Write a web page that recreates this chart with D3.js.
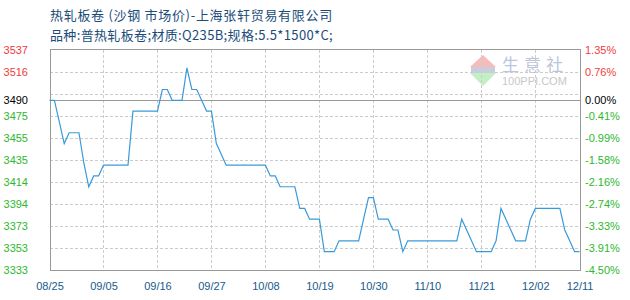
<!DOCTYPE html>
<html><head><meta charset="utf-8">
<script src="https://cdn.jsdelivr.net/npm/d3@7"></script>
<style>body{margin:0;background:#fff}svg{display:block}</style>
</head><body><div id="chart"></div>
<script>
const titleLine1 = "热轧板卷 (沙钢 市场价)-上海张轩贸易有限公司";
const titleLine2 = "品种:普热轧板卷;材质:Q235B;规格:5.5*1500*C;";
const startDate = "2023-08-25";
const endDate = "2023-12-11";
const baseValue = 3490;
const prices = [
 3490,3490,3470,3450,3460,3460,3460,3432,3410,3420,
 3420,3430,3430,3430,3430,3430,3430,3480,3480,3480,
 3480,3480,3480,3500,3500,3490,3490,3490,3520,3500,
 3500,3490,3480,3480,3450,3440,3430,3430,3430,3430,
 3430,3430,3430,3430,3430,3420,3420,3410,3410,3410,
 3410,3390,3390,3380,3380,3380,3350,3350,3350,3360,
 3360,3360,3360,3360,3380,3400,3400,3380,3380,3380,
 3370,3370,3350,3360,3360,3360,3360,3360,3360,3360,
 3360,3360,3360,3360,3380,3370,3360,3350,3350,3350,
 3350,3360,3390,3380,3370,3360,3360,3360,3380,3390,
 3390,3390,3390,3390,3390,3370,3360,3350,3350
];
const gridValues = [3537,3516.6,3496.2,3475.8,3455.4,3435,3414.6,3394.2,3373.8,3353.4,3333];
const leftLabels = ["3537","3516","3490","3475","3455","3435","3414","3394","3373","3353","3333"];
const rightLabels = ["1.35%","0.76%","0.00%","-0.41%","-0.99%","-1.58%","-2.16%","-2.74%","-3.33%","-3.91%","-4.50%"];
const xTickLabels = ["08/25","09/05","09/16","09/27","10/08","10/19","10/30","11/10","11/21","12/02","12/11"];

const W = 630, H = 300;
const parse = d3.timeParse("%Y-%m-%d");
const d0 = parse(startDate), d1 = parse(endDate);
const dates = d3.timeDay.range(d0, d3.timeDay.offset(d1, 1));
const data = dates.map((d, i) => ({date: d, value: prices[i]}));
const xTickDates = xTickLabels.map(s => {
  const [m, dd] = s.split("/").map(Number);
  return new Date(2023, m - 1, dd);
});

const L = 50, R = 580, T = 49.5, B = 270;
const x = d3.scaleTime().domain([d0, d1]).range([L - 0.5, R - 0.5]);
const y = d3.scaleLinear().domain([3333, 3537]).range([B, T]);

const svg = d3.select("#chart").append("svg").attr("width", W).attr("height", H);
const cjk = "'Noto Sans CJK SC','Noto Sans',sans-serif";
const num = "'Liberation Sans','DejaVu Sans',sans-serif";

svg.append("text").attr("x", 50).attr("y", 20).attr("fill", "#1a4c7a")
  .style("font-family", cjk).style("font-size", "13px").style("letter-spacing", "0.7px").text(titleLine1);
svg.append("text").attr("x", 50).attr("y", 40).attr("fill", "#1a4c7a")
  .style("font-family", cjk).style("font-size", "13px").style("letter-spacing", "0.35px").text(titleLine2);

// watermark
const wm = svg.append("g");
wm.append("path").attr("d", "M483,55 L496,67 L470,67 Z").attr("fill", "#f6bcbc");
wm.append("rect").attr("x", 471).attr("y", 67).attr("width", 24).attr("height", 6).attr("fill", "#c8cede");
wm.append("path").attr("d", "M470,73 L496,73 L483,86 Z").attr("fill", "#c4eec4");
wm.append("text").attr("x", 502).attr("y", 71).attr("fill", "#bcc4dc")
  .style("font-family", cjk).style("font-size", "17px").style("letter-spacing", "5px").text("生意社");
wm.append("text").attr("x", 502).attr("y", 85).attr("fill", "#c8c8c8")
  .style("font-family", num).style("font-size", "11px").text("100PPI.COM");

const g = svg.append("g").attr("shape-rendering", "crispEdges");
// horizontal grid
g.selectAll(".hg").data(gridValues.slice(1, -1)).enter().append("line")
  .attr("x1", L).attr("x2", R).attr("y1", d => Math.round(y(d)) + 0.5).attr("y2", d => Math.round(y(d)) + 0.5)
  .attr("stroke", "#cccccc").attr("stroke-dasharray", "3,2");
// vertical grid
g.selectAll(".vg").data(xTickDates.slice(1, -1)).enter().append("line")
  .attr("x1", d => Math.round(x(d)) + 0.5).attr("x2", d => Math.round(x(d)) + 0.5)
  .attr("y1", T).attr("y2", B).attr("stroke", "#cccccc").attr("stroke-dasharray", "3,2");
// base line
g.append("line").attr("x1", L).attr("x2", R)
  .attr("y1", Math.round(y(baseValue)) + 0.5).attr("y2", Math.round(y(baseValue)) + 0.5)
  .attr("stroke", "#999999");
// frame
g.append("rect").attr("x", L + 0.5).attr("y", T).attr("width", R - L).attr("height", B - T + 0.5)
  .attr("fill", "none").attr("stroke", "#999999");

// line
svg.append("path").datum(data).attr("fill", "none").attr("stroke", "#3a9ad9").attr("stroke-width", 1.2)
  .attr("d", d3.line().x(d => x(d.date)).y(d => y(d.value)));

// left labels
const colorFor = v => v > baseValue ? "#f03c3c" : (v === baseValue ? "#000000" : "#2eb82e");
const leftVals = leftLabels.map(Number);
svg.selectAll(".ll").data(leftLabels).enter().append("text")
  .attr("x", 28).attr("text-anchor", "end")
  .attr("y", (d, i) => (leftVals[i] === baseValue ? y(baseValue) : y(gridValues[i])) + 4)
  .attr("fill", (d, i) => colorFor(leftVals[i]))
  .style("font-family", num).style("font-size", "11px").text(d => d);
svg.selectAll(".rl").data(rightLabels).enter().append("text")
  .attr("x", 585)
  .attr("y", (d, i) => (leftVals[i] === baseValue ? y(baseValue) : y(gridValues[i])) + 4)
  .attr("fill", (d, i) => colorFor(leftVals[i]))
  .style("font-family", num).style("font-size", "11px").text(d => d);

// x labels
const xAxis = d3.axisBottom(x).tickValues(xTickDates).tickSize(0).tickFormat((d, i) => xTickLabels[i]);
const ax = svg.append("g").attr("transform", `translate(0,${B + 9})`).call(xAxis);
ax.select(".domain").remove();
ax.selectAll("text").attr("fill", "#175a8c").style("font-family", num).style("font-size", "11px");
</script></body></html>
